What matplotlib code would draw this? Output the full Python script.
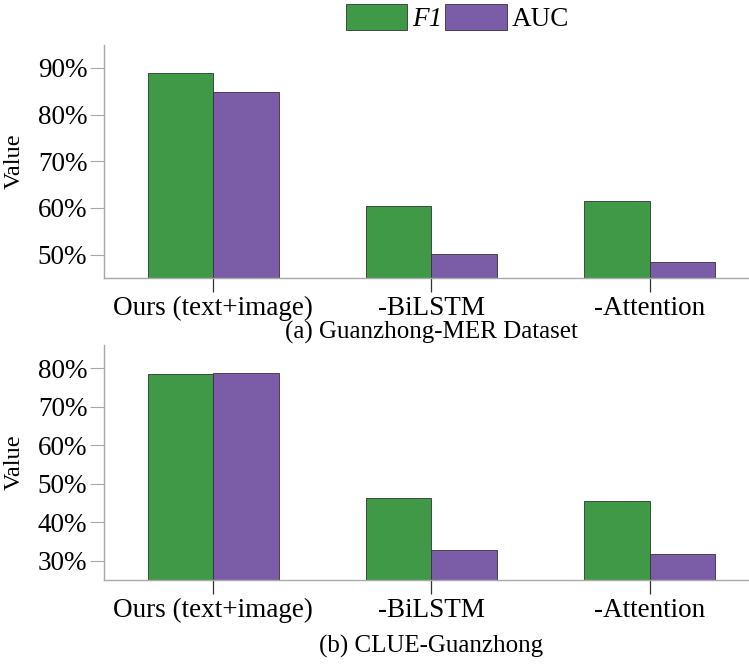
import matplotlib
matplotlib.use("Agg")
import matplotlib.pyplot as plt
import matplotlib.transforms as mtransforms
import numpy as np

plt.rcParams['font.family'] = ['Liberation Serif', 'DejaVu Serif']

methods = ['Ours (text+image)', '-BiLSTM', '-Attention']

# Guanzhong-MER Dataset
mer_f1 = [89.0, 60.4, 61.4]
mer_auc = [84.8, 50.2, 48.4]

# CLUE-Guanzhong
clue_f1 = [78.4, 46.2, 45.5]
clue_auc = [78.7, 32.8, 31.8]

green = '#3f9946'
purple = '#7a5ca7'
spine_gray = '#a8a8a8'

fig = plt.figure(figsize=(7.49, 6.64), dpi=100)
ax1 = fig.add_axes([0.1389, 0.5813, 0.8611, 0.3509])
ax2 = fig.add_axes([0.1389, 0.1265, 0.8611, 0.3539])

x = np.arange(len(methods))
w = 0.30


def draw_panel(ax, f1, auc, ylim, yticks, caption, cap_y):
    b1 = ax.bar(x - w / 2, f1, w, color=green, edgecolor='#2b3a2b', linewidth=0.6, label='F1')
    b2 = ax.bar(x + w / 2, auc, w, color=purple, edgecolor='#3a2f45', linewidth=0.6, label='AUC')
    ax.set_ylim(*ylim)
    ax.set_xlim(-0.5, 2.455)
    ax.set_yticks(yticks)
    ax.set_yticklabels(['%d%%' % t for t in yticks])
    ax.set_xticks(x)
    ax.set_xticklabels(methods)
    ax.tick_params(axis='y', labelsize=19.5, length=10, width=0.8, color=spine_gray, pad=2)
    ax.tick_params(axis='x', labelsize=19.5, length=10, width=0.9, color='#333333', pad=3)
    for s in ['top', 'right']:
        ax.spines[s].set_visible(False)
    for s in ['left', 'bottom']:
        ax.spines[s].set_color(spine_gray)
        ax.spines[s].set_linewidth(1.0)
    ax.set_ylabel('Value', fontsize=17.5, va='center', ha='center')
    ax.yaxis.set_label_coords(-0.140, 0.5)
    trans = mtransforms.blended_transform_factory(ax.transData, fig.transFigure)
    ax.text(1, cap_y, caption, transform=trans, ha='center', va='center', fontsize=18)
    return b1, b2


h1, h2 = draw_panel(ax1, mer_f1, mer_auc, (45, 94.9), [50, 60, 70, 80, 90],
                    '(a) Guanzhong-MER Dataset', 0.500)
draw_panel(ax2, clue_f1, clue_auc, (25, 86), [30, 40, 50, 60, 70, 80],
           '(b) CLUE-Guanzhong', 0.026)

leg = fig.legend([h1, h2], ['F1', 'AUC'], loc='center', bbox_to_anchor=(0.611, 0.973),
                 ncol=2, frameon=False, fontsize=19.5, handlelength=2.26, handleheight=1.1,
                 handletextpad=0.2, columnspacing=0.1, borderpad=0, borderaxespad=0)
leg.get_texts()[0].set_fontstyle('italic')

fig.savefig('out.png', dpi=100)
